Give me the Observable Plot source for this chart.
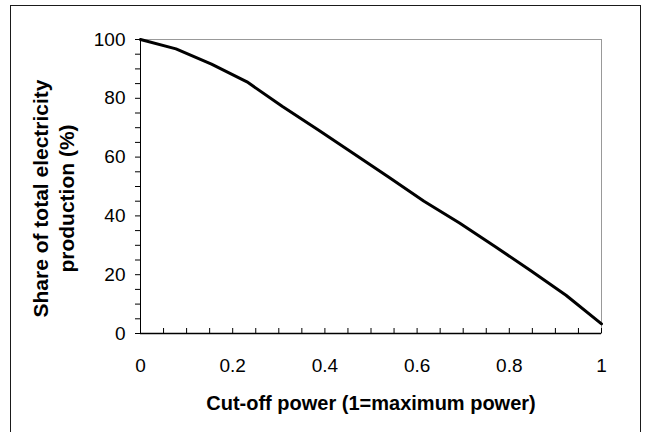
<!DOCTYPE html>
<html>
<head>
<meta charset="utf-8">
<script src="https://cdn.jsdelivr.net/npm/d3@7"></script>
<script src="https://cdn.jsdelivr.net/npm/@observablehq/plot@0.6"></script>
<style>
  html, body { margin: 0; padding: 0; background: #fff; }
  #wrap { position: relative; width: 645px; height: 432px; overflow: hidden; }
  #border { position: absolute; left: 10px; top: 5px; width: 631px; height: 440px; border: 1.5px solid #1a1a1a; box-sizing: border-box; pointer-events: none; }
  svg { display: block; }
</style>
</head>
<body>
<div id="wrap"><div id="border"></div></div>
<script>
// Data
const cutoffPower = [0, 0.077, 0.154, 0.231, 0.308, 0.385, 0.462, 0.538, 0.615, 0.692, 0.769, 0.846, 0.923, 1];
const sharePct    = [100, 96.8, 91.6, 85.6, 77.2, 69.3, 61.2, 53.2, 45.0, 37.6, 29.6, 21.4, 13.0, 3.3];

// Axis ticks
const xTickValues = [0, 0.2, 0.4, 0.6, 0.8, 1];
const xTickLabels = ["0", "0.2", "0.4", "0.6", "0.8", "1"];
const xMinorTicks = [0, 0.05, 0.1, 0.15, 0.2, 0.25, 0.3, 0.35, 0.4, 0.45, 0.5, 0.55, 0.6, 0.65, 0.7, 0.75, 0.8, 0.85, 0.9, 0.95, 1];
const yTickValues = [0, 20, 40, 60, 80, 100];
const yTickLabels = ["0", "20", "40", "60", "80", "100"];
const yMinorTicks = [0, 5, 10, 15, 20, 25, 30, 35, 40, 45, 50, 55, 60, 65, 70, 75, 80, 85, 90, 95, 100];

const xTitle = "Cut-off power (1=maximum power)";
const yTitle = "Share of total electricity\nproduction (%)";

const data = cutoffPower.map((x, i) => ({x, y: sharePct[i]}));

const W = 645, H = 432;
const mL = 140, mR = 44, mT = 39, mB = 99;
const frameH = H - mT - mB;

const chart = Plot.plot({
  width: W,
  height: H,
  marginLeft: mL,
  marginRight: mR,
  marginTop: mT,
  marginBottom: mB,
  style: {fontFamily: "'Liberation Sans', Arial, sans-serif", fontSize: "19px", color: "#000", background: "#fff"},
  x: {domain: [0, 1], axis: null},
  y: {domain: [0, 100], axis: null},
  marks: [
    Plot.frame({stroke: "#999", strokeWidth: 1}),
    // y axis: ticks every 5, labels every 20
    Plot.axisY({
      ticks: yMinorTicks,
      label: null,
      tickSize: 5,
      tickPadding: 10,
      fontSize: 19,
      stroke: "#000",
      tickFormat: d => { const i = yTickValues.indexOf(d); return i >= 0 ? yTickLabels[i] : ""; }
    }),
    // x axis labels (ticks drawn inward separately)
    Plot.axisX({
      ticks: xTickValues,
      label: null,
      tickSize: 0,
      tickPadding: 25,
      fontSize: 19,
      tickFormat: d => xTickLabels[xTickValues.indexOf(d)]
    }),
    Plot.tickX(xMinorTicks, {x: d => d, stroke: "#000", strokeWidth: 1, insetTop: frameH - 5}),
    Plot.ruleX([0], {stroke: "#000", strokeWidth: 1}),
    Plot.ruleY([0], {stroke: "#000", strokeWidth: 1.5}),
    Plot.line(data, {x: "x", y: "y", stroke: "#000", strokeWidth: 3, strokeLinejoin: "round"}),
    // Titles
    Plot.text([xTitle], {
      text: d => d, frameAnchor: "bottom", dy: 70, lineAnchor: "middle",
      fontSize: 20, fontWeight: "bold", fill: "#000"
    }),
    Plot.text([yTitle], {
      text: d => d, frameAnchor: "left", rotate: -90, dx: -88, dy: 12,
      lineAnchor: "middle", textAnchor: "middle", lineHeight: 1.24,
      fontSize: 21, fontWeight: "bold", fill: "#000"
    })
  ]
});

document.getElementById("wrap").prepend(chart);
</script>
</body>
</html>
